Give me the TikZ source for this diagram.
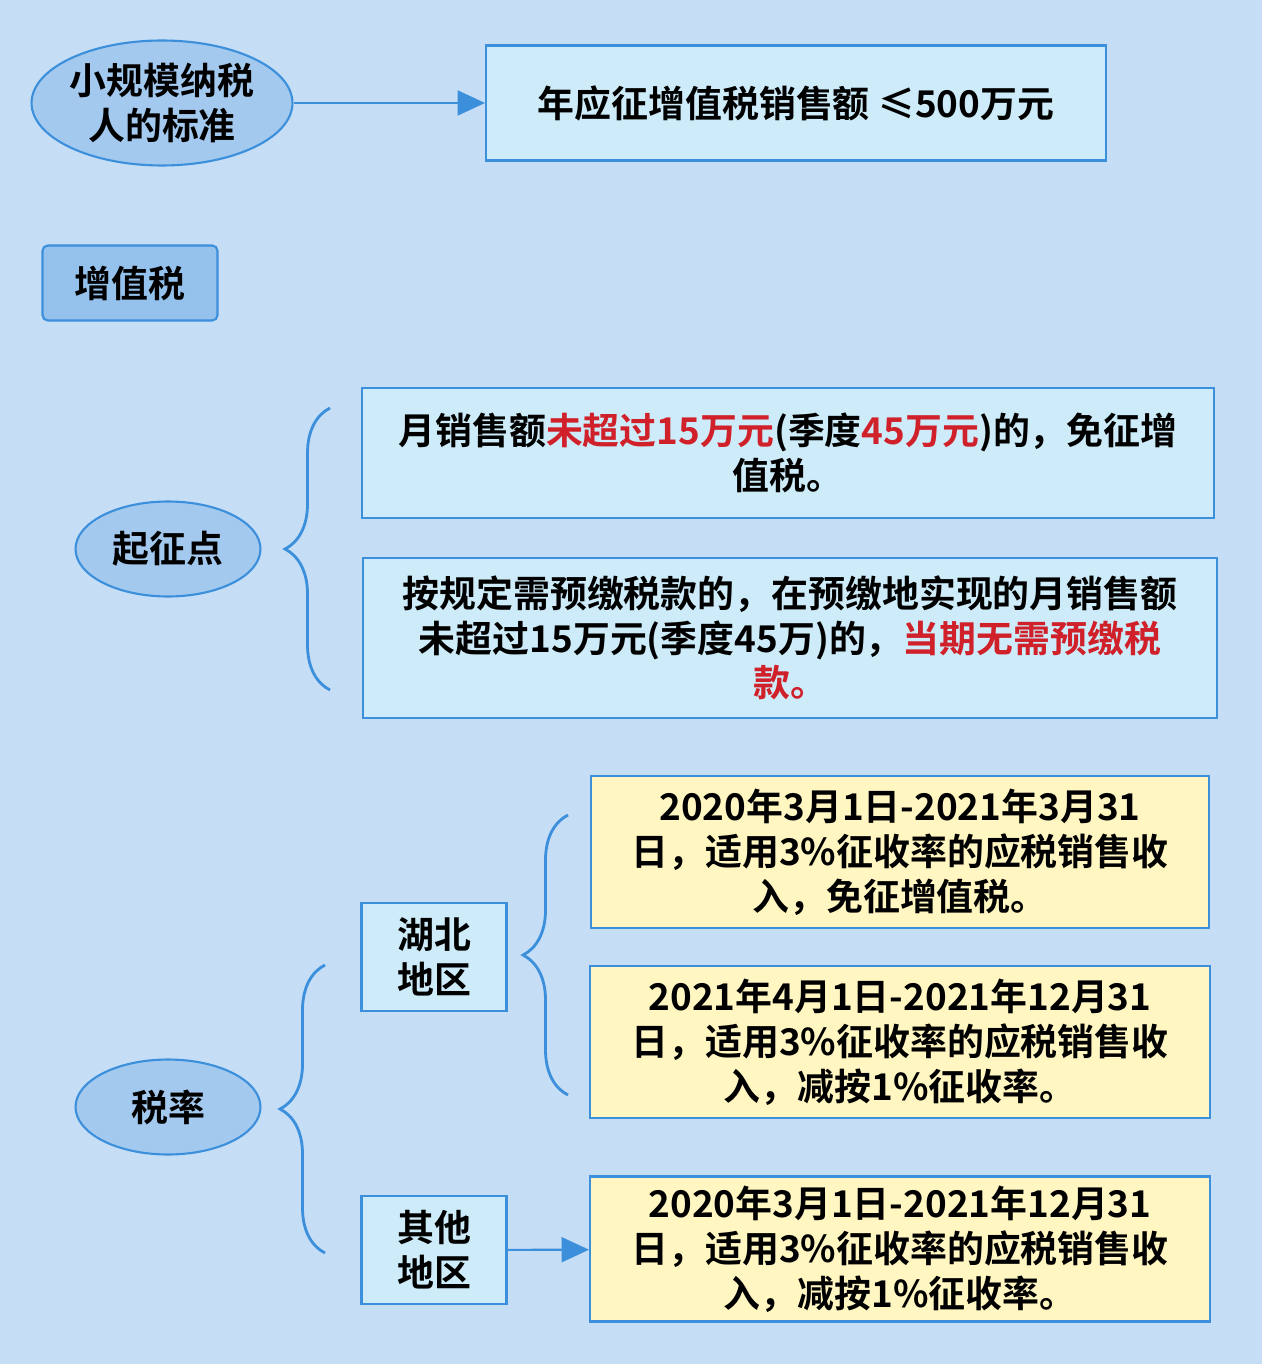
\documentclass[tikz,border=0pt]{standalone}
\usepackage{fontspec}
\setmainfont{Noto Sans CJK SC}[BoldFont={Noto Sans CJK SC Bold}]
\usetikzlibrary{shapes.geometric, arrows.meta, positioning, decorations.pathreplacing}
\definecolor{bgblue}{HTML}{C6DDF6}
\definecolor{lineblue}{HTML}{3B8FDB}
\definecolor{boxcyan}{HTML}{CDEBF8}
\definecolor{boxyellow}{HTML}{FFF6C2}
\definecolor{txtred}{HTML}{D0202A}

\begin{document}
\begin{tikzpicture}[
    x=0.02cm, y=-0.02cm,
    font=\bfseries\fontsize{21}{25.5}\selectfont,
    oval/.style={ellipse, draw=lineblue, fill=lineblue!25!bgblue, very thick, align=center, inner sep=0pt},
    box/.style={rectangle, draw=lineblue, fill=boxcyan, very thick, align=center, inner sep=0pt},
    ybox/.style={box, fill=boxyellow},
    arrow/.style={-{Triangle[length=0.55cm,width=0.5cm]}, lineblue, very thick},
    curly/.style={decorate, decoration={brace, amplitude=0.9cm}, lineblue, line width=1.6pt}
]
\fill[bgblue] (0,0) rectangle (1262,1364);

% Top row - standard
\node[oval, minimum width=4.8cm, minimum height=2.5cm] (std) at (162,103) {小规模纳税\\人的标准};
\node[box, minimum width=12.4cm, minimum height=2.3cm] (limit) at (796,103) {年应征增值税销售额 ≤500万元};
\draw[arrow] (std) -- (limit);

% Title
\node[box, rounded corners=3pt, fill=lineblue!35!bgblue, minimum width=3.5cm, minimum height=1.5cm] (vat) at (130,283) {增值税};

% Threshold
\node[oval, minimum width=3.7cm, minimum height=1.9cm] (start) at (168,549) {起征点};
\node[box, minimum width=17.05cm, minimum height=2.6cm] (start1) at (788,453)
  {月销售额\textcolor{txtred}{未超过15万元}(季度\textcolor{txtred}{45万元})的，免征增\\值税。};
\node[box, minimum width=17.1cm, minimum height=3.2cm] (start2) at (790,638)
  {按规定需预缴税款的，在预缴地实现的月销售额\\未超过15万元(季度45万)的，\textcolor{txtred}{当期无需预缴税}\\\textcolor{txtred}{款。}};
\coordinate (b1top) at (330,408);
\coordinate (b1bot) at (330,690);
\draw[curly] (b1bot) -- (b1top);

% Rate
\node[oval, minimum width=3.7cm, minimum height=1.9cm] (rate) at (168,1107) {税率};
\coordinate (b2top) at (325,965);
\coordinate (b2bot) at (325,1253);
\draw[curly] (b2bot) -- (b2top);

\node[box, minimum width=2.9cm, minimum height=2.15cm] (hubei) at (434,957) {湖北\\地区};
\node[box, minimum width=2.9cm, minimum height=2.15cm] (other) at (434,1250) {其他\\地区};

\node[ybox, minimum width=12.35cm, minimum height=3.05cm] (y1) at (900,852)
  {2020年3月1日-2021年3月31\\日，适用3\%征收率的应税销售收\\入，免征增值税。};
\node[ybox, minimum width=12.4cm, minimum height=3.05cm] (y2) at (900,1042)
  {2021年4月1日-2021年12月31\\日，适用3\%征收率的应税销售收\\入，减按1\%征收率。};
\node[ybox, minimum width=12.4cm, minimum height=2.9cm] (y3) at (900,1249)
  {2020年3月1日-2021年12月31\\日，适用3\%征收率的应税销售收\\入，减按1\%征收率。};

\coordinate (b3top) at (568,815);
\coordinate (b3bot) at (568,1095);
\draw[curly] (b3bot) -- (b3top);
\draw[arrow] (other) -- (y3);
\end{tikzpicture}
\end{document}
